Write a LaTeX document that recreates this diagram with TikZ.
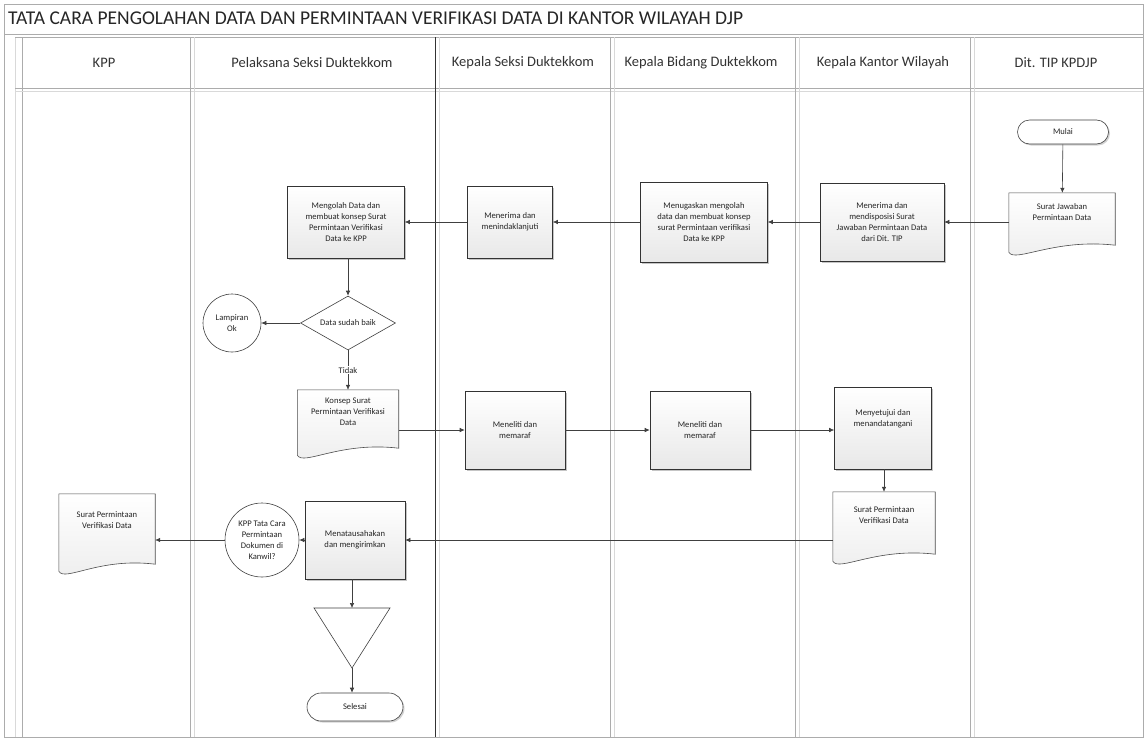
\documentclass[tikz,border=0pt]{standalone}
\usepackage{fontspec}
\setmainfont{Carlito}
\usetikzlibrary{shapes.geometric,shapes.misc,arrows.meta,shadows,calc}
\pgfdeclarelayer{bg}\pgfdeclarelayer{docs}\pgfsetlayers{bg,docs,main}
\newcommand{\docout}[1]{\begin{pgfonlayer}{docs}\path[docshape] (#1.north west) -- (#1.north east) -- ([yshift=2pt]#1.south east) .. controls ([xshift=-8pt,yshift=9pt]#1.south) and ([xshift=6pt,yshift=-16pt]#1.south west) .. ([yshift=-5pt]#1.south west) -- cycle;\end{pgfonlayer}}
\begin{document}
\begin{tikzpicture}[x=1pt,y=-1pt,
  every node/.style={font=\fontsize{8.6}{11}\selectfont, align=center, inner sep=2pt, text=black!85},
  lane/.style={draw=gray!65, line width=0.9pt},
  lanelight/.style={draw=gray!30, line width=0.6pt},
  hdr/.style={font=\fontsize{14.5}{16}\selectfont, text=black!80},
  box/.style={draw=black!80, line width=0.6pt, top color=white, bottom color=gray!18, drop shadow={shadow xshift=1.5pt,shadow yshift=-1.5pt,opacity=0.45}},
  doc/.style={draw=none, fill=none, anchor=center},
  docshape/.style={draw=black!70, line width=0.6pt, top color=white, bottom color=gray!14},
  term/.style={draw=black!75, line width=0.6pt, rounded rectangle, fill=white, drop shadow={shadow xshift=1.5pt,shadow yshift=-1.5pt,opacity=0.35}},
  dec/.style={draw=black!75, line width=0.6pt, diamond, aspect=1.75, inner sep=0pt, fill=white},
  conncirc/.style={draw=black!75, line width=0.6pt, circle, inner sep=0pt, fill=white},
  conn/.style={draw=black!75, line width=0.6pt, -{Latex[length=5pt,width=4.5pt]}},
  lbl/.style={fill=white, inner sep=1pt}
]
\useasboundingbox (0,0) rectangle (1146,742);
\begin{pgfonlayer}{bg}
  \fill[white] (0,0) rectangle (1146,742);
  % outer frame
  \draw[lane] (4,4) rectangle (1143,737);
  \draw[lane] (4,34) -- (1143,34);
  % pool
  \draw[lanelight] (15,37) -- (15,737);
  \draw[lane] (22,37) -- (22,737);
  \draw[lane] (15,37) -- (1143,37);
  \draw[lane] (15,88) -- (1143,88);
  \draw[lanelight] (15,91) -- (1143,91);
  % lane dividers
  \foreach \xx in {190,610,795,970}{
    \draw[lane] (\xx,37) -- (\xx,737);
    \draw[lanelight] (\xx+4,37) -- (\xx+4,737);
  }
  \draw[draw=black!80, line width=1pt] (435,37) -- (435,737);
  \draw[lanelight] (439,37) -- (439,737);
\end{pgfonlayer}

\node[anchor=west, font=\fontsize{19.5}{21}\selectfont, text=black!85] (title) at (6,18) {TATA CARA PENGOLAHAN DATA DAN PERMINTAAN VERIFIKASI DATA DI KANTOR WILAYAH DJP};

\node[hdr] (h1) at (104,63) {KPP};
\node[hdr] (h2) at (312,63) {Pelaksana Seksi Duktekkom};
\node[hdr] (h3) at (523,63) {Kepala Seksi Duktekkom};
\node[hdr] (h4) at (701,63) {Kepala Bidang Duktekkom};
\node[hdr] (h5) at (883,63) {Kepala Kantor Wilayah};
\node[hdr] (h6) at (1056,63) {Dit. TIP KPDJP};

% row 1
\node[term, minimum width=95pt, minimum height=24pt] (mulai) at (1063,132) {Mulai};
\node[doc, minimum width=106pt, minimum height=54pt] (d1) at (1062,220) {Surat Jawaban\\Permintaan Data\\[4pt]};
\docout{d1}
\node[box, minimum width=124pt, minimum height=78pt] (kw1) at (882,222) {Menerima dan\\mendisposisi Surat\\Jawaban Permintaan Data\\dari Dit. TIP};
\node[box, minimum width=127pt, minimum height=80pt] (kb1) at (704,222) {Menugaskan mengolah\\data dan membuat konsep\\surat Permintaan verifikasi\\Data ke KPP};
\node[box, minimum width=85pt, minimum height=72pt] (ks1) at (510,222) {Menerima dan\\menindaklanjuti};
\node[box, minimum width=117pt, minimum height=72pt] (p1) at (346,222) {Mengolah Data dan\\membuat konsep Surat\\Permintaan Verifikasi\\Data ke KPP};

% decision
\node[dec, minimum width=95pt, minimum height=54pt] (dk) at (348,323) {Data sudah baik};
\node[conncirc, minimum size=58pt] (c1) at (232,323) {Lampiran\\Ok};

% row 2
\node[doc, minimum width=101pt, minimum height=60pt] (d2) at (348,420) {Konsep Surat\\Permintaan Verifikasi\\Data\\[6pt]};
\docout{d2}
\node[box, minimum width=100pt, minimum height=78pt] (ks2) at (515,430) {Meneliti dan\\memaraf};
\node[box, minimum width=100pt, minimum height=78pt] (kb2) at (700,430) {Meneliti dan\\memaraf};
\node[box, minimum width=97pt, minimum height=82pt] (kw2) at (883,428) {Menyetujui dan\\menandatangani\\[8pt]};
\node[doc, minimum width=102pt, minimum height=64pt] (d3) at (884,524) {Surat Permintaan\\Verifikasi Data\\[6pt]};
\docout{d3}

% row 3
\node[box, minimum width=100pt, minimum height=78pt] (p3) at (355,540) {Menatausahakan\\dan mengirimkan};
\node[conncirc, minimum size=74pt] (c2) at (262,540) {KPP Tata Cara\\Permintaan\\Dokumen di\\Kanwil?};
\node[doc, minimum width=96pt, minimum height=72pt] (dk1) at (107,530) {Surat Permintaan\\Verifikasi Data\\[8pt]};
\docout{dk1}

% archive triangle and end
\coordinate (tritop) at (352,608);
\coordinate (triapex) at (352,668);
\draw[draw=black!75, line width=0.6pt, fill=white] (314,608) -- (390,608) -- (triapex) -- cycle;
\node[term, minimum width=100pt, minimum height=28pt] (selesai) at (355,707) {Selesai};

% connectors
\draw[conn] (mulai) -- (d1);
\draw[conn] (d1.west |- kw1.east) -- (kw1.east);
\draw[conn] (kw1) -- (kb1);
\draw[conn] (kb1) -- (ks1);
\draw[conn] (ks1) -- (p1);
\draw[conn] (p1.south -| dk.north) -- (dk.north);
\draw[conn] (dk.west) -- (c1.east);
\draw[conn] (dk.south) -- node[lbl, pos=0.5] (tidak) {Tidak} (d2.north);
\draw[conn] (d2.east |- ks2.west) -- (ks2.west);
\draw[conn] (ks2) -- (kb2);
\draw[conn] (kb2) -- (kw2.west |- kb2.east);
\draw[conn] (kw2.south -| d3.north) -- (d3.north);
\draw[conn] (d3.west |- p3.east) -- (p3.east);
\draw[conn] (p3.west) -- (c2.east);
\draw[conn] (c2.west) -- (dk1.east |- c2.west);
\draw[conn] (p3.south -| tritop) -- (tritop);
\draw[conn] (triapex) -- (selesai.north -| triapex);
\end{tikzpicture}
\end{document}
